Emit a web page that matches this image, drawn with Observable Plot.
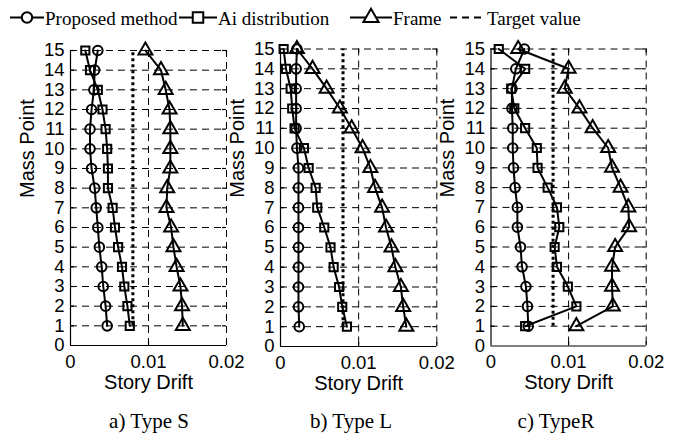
<!DOCTYPE html>
<html><head><meta charset="utf-8">
<script src="https://cdn.jsdelivr.net/npm/d3@7"></script>
<script src="https://cdn.jsdelivr.net/npm/@observablehq/plot@0.6"></script>
<style>
body{margin:0;background:#fff;}
#wrap{position:relative;width:678px;height:435px;overflow:hidden;background:#fff;}
#wrap svg{position:absolute;}
</style></head><body><div id="wrap"></div>
<script>
// ---- data (mass point 1 → 15) ----
const massPoints = [1,2,3,4,5,6,7,8,9,10,11,12,13,14,15];
const yTicks = [0,1,2,3,4,5,6,7,8,9,10,11,12,13,14,15];
const xTicks = [0, 0.01, 0.02];
const xTickLabels = ["0", "0.01", "0.02"];
const xGrid = [0.01, 0.02];
const seriesNames = ["Proposed method", "Ai distribution", "Frame", "Target value"];
const panelCaptions = ["a) Type S", "b) Type L", "c) TypeR"];
const targetValues = [0.008, 0.008, 0.008];
const targetFloors = [1, 15];

const typeS_proposed = [0.0047,0.0045,0.0042,0.0040,0.0037,0.0035,0.0033,0.0031,0.0027,0.0025,0.0025,0.0027,0.0030,0.0031,0.0035];
const typeS_ai       = [0.0076,0.0073,0.0069,0.0066,0.0061,0.0057,0.0054,0.0048,0.0048,0.0047,0.0045,0.0041,0.0035,0.0025,0.0019];
const typeS_frame    = [0.0144,0.0143,0.0141,0.0136,0.0132,0.0129,0.0123,0.0124,0.0128,0.0128,0.0128,0.0127,0.0122,0.0116,0.0096];

const typeL_proposed = [0.0024,0.0023,0.0023,0.0023,0.0023,0.0023,0.0023,0.0023,0.0023,0.0021,0.0020,0.0020,0.0020,0.0020,0.0021];
const typeL_ai       = [0.0085,0.0079,0.0075,0.0068,0.0064,0.0056,0.0047,0.0045,0.0036,0.0030,0.0018,0.0015,0.0013,0.0007,0.0004];
const typeL_frame    = [0.0161,0.0157,0.0154,0.0147,0.0142,0.0135,0.0130,0.0121,0.0115,0.0105,0.0091,0.0076,0.0059,0.0041,0.0021];

const typeR_proposed = [0.0048,0.0047,0.0045,0.0040,0.0038,0.0034,0.0034,0.0031,0.0029,0.0028,0.0028,0.0027,0.0027,0.0032,0.0043];
const typeR_ai       = [0.0044,0.0110,0.0099,0.0085,0.0082,0.0088,0.0085,0.0073,0.0060,0.0059,0.0044,0.0030,0.0026,0.0044,0.0010];
const typeR_frame    = [0.0110,0.0157,0.0156,0.0156,0.0160,0.0178,0.0177,0.0167,0.0156,0.0151,0.0131,0.0114,0.0095,0.0100,0.0035];

const wrap = document.getElementById("wrap");
const SANS = "'Liberation Sans', Arial, sans-serif";
const SERIF = "'Liberation Serif', 'Times New Roman', serif";
const SVG_TOP = 36, SVG_BOTTOM = 400;

function panel({proposed, ai, frame, target, left, width, mL, mR, top, bottom}) {
  const fw = width - mL - mR, fh = bottom - top;
  const rows = massPoints.map((m, i) => ({m, p: proposed[i], a: ai[i], f: frame[i]}));
  const dashed = {stroke: "black", strokeWidth: 1, strokeDasharray: "7,5"};
  const solid = {stroke: "black", strokeWidth: 1.2};
  const ser = {stroke: "black", strokeWidth: 2};
  const dot = {stroke: "black", strokeWidth: 2, fill: "none"};
  const svg = Plot.plot({
    width, height: SVG_BOTTOM - SVG_TOP,
    marginLeft: mL, marginRight: mR, marginTop: top - SVG_TOP, marginBottom: SVG_BOTTOM - bottom,
    style: {background: "none", overflow: "visible", fontFamily: SANS, color: "black"},
    x: {domain: [0, 0.02], label: null},
    y: {domain: [0, 15], label: null},
    marks: [
      Plot.ruleY(massPoints, dashed),
      Plot.ruleX(xGrid, dashed),
      Plot.ruleX([0], solid),
      Plot.ruleY([0], solid),
      Plot.tickY(massPoints, {y: d => d, insetRight: fw - 4, ...solid}),
      Plot.tickY(massPoints, {y: d => d, insetLeft: fw - 4, ...solid}),
      Plot.tickX(xGrid, {x: d => d, insetTop: fh - 4, ...solid}),
      Plot.tickX(xGrid, {x: d => d, insetBottom: fh - 4, ...solid}),
      Plot.axisY(yTicks, {tickSize: 0, tickPadding: 6, fontSize: 18.5, label: null}),
      Plot.axisX(xTicks, {tickSize: 0, tickPadding: 9, fontSize: 18.5, label: null,
        tickFormat: d => xTickLabels[xTicks.indexOf(d)]}),
      Plot.text(["Mass Point"], {frameAnchor: "left", dx: -43, rotate: -90, fontSize: 20, fill: "black"}),
      Plot.text(["Story Drift"], {frameAnchor: "bottom", dy: 43, fontSize: 20, fill: "black"}),
      Plot.ruleX([target], {y1: targetFloors[0], y2: targetFloors[1], stroke: "black",
        strokeWidth: 3, strokeDasharray: "3,3", strokeLinecap: "butt"}),
      Plot.line(rows, {x: "f", y: "m", ...ser}),
      Plot.dot(rows, {x: "f", y: "m", symbol: "triangle", r: 5.2, ...dot}),
      Plot.line(rows, {x: "a", y: "m", ...ser}),
      Plot.dot(rows, {x: "a", y: "m", symbol: "square", r: 4.6, ...dot}),
      Plot.line(rows, {x: "p", y: "m", ...ser}),
      Plot.dot(rows, {x: "p", y: "m", symbol: "circle", r: 4.8, ...dot})
    ]
  });
  svg.style.left = left + "px";
  svg.style.top = SVG_TOP + "px";
  wrap.appendChild(svg);
}

panel({proposed: typeS_proposed, ai: typeS_ai, frame: typeS_frame, target: targetValues[0],
  left: 0, width: 250, mL: 70, mR: 250 - 226, top: 50, bottom: 345});
panel({proposed: typeL_proposed, ai: typeL_ai, frame: typeL_frame, target: targetValues[1],
  left: 220, width: 240, mL: 60, mR: 240 - (436.3 - 220), top: 48.5, bottom: 346});
panel({proposed: typeR_proposed, ai: typeR_ai, frame: typeR_frame, target: targetValues[2],
  left: 430, width: 248, mL: 60.5, mR: 248 - (645.7 - 430), top: 48.5, bottom: 345.5});

// ---- legend + captions overlay ----
const ov = d3.select(wrap).append("svg").attr("width", 678).attr("height", 435)
  .style("left", "0px").style("top", "0px").style("pointer-events", "none");
const ly = 17.5;
const legendItems = [
  {x0: 10, x1: 44, sym: d3.symbolCircle, size: Math.PI * 5.2 * 5.2, tx: 45, dash: null},
  {x0: 179, x1: 217, sym: d3.symbolSquare, size: 110, tx: 218, dash: null},
  {x0: 350, x1: 392, sym: d3.symbolTriangle, size: 100, tx: 393, dash: null},
  {x0: 450, x1: 485, sym: null, tx: 487, dash: "7,5"}
];
legendItems.forEach((it, i) => {
  ov.append("line").attr("x1", it.x0).attr("x2", it.x1).attr("y1", ly).attr("y2", ly)
    .attr("stroke", "black").attr("stroke-width", 2).attr("stroke-dasharray", it.dash);
  if (it.sym) {
    ov.append("path").attr("d", d3.symbol(it.sym, it.size)())
      .attr("transform", `translate(${(it.x0 + it.x1) / 2},${ly})`)
      .attr("fill", "white").attr("stroke", "black").attr("stroke-width", 2);
  }
  ov.append("text").attr("x", it.tx).attr("y", 25).text(seriesNames[i])
    .attr("font-family", SERIF).attr("font-size", 19).attr("fill", "black");
});
const capX = [149, 351, 556];
panelCaptions.forEach((c, i) => {
  ov.append("text").attr("x", capX[i]).attr("y", 428).attr("text-anchor", "middle").text(c)
    .attr("font-family", SERIF).attr("font-size", 21).attr("fill", "black");
});
</script></body></html>
